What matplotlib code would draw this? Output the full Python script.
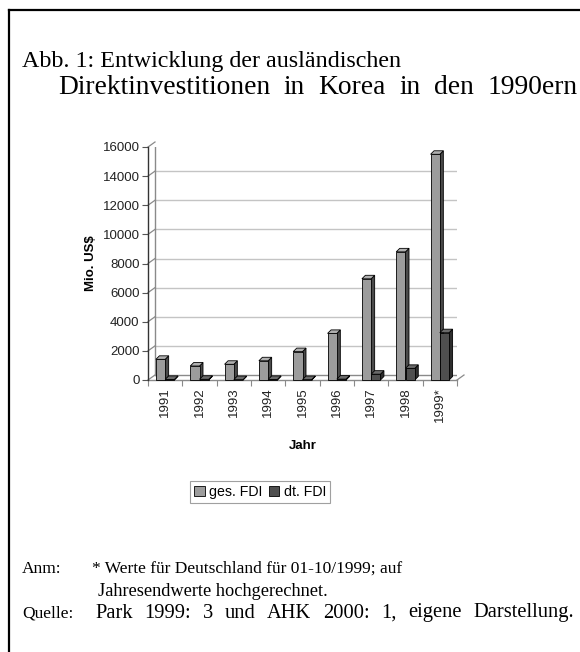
import matplotlib
matplotlib.use("Agg")
import matplotlib.pyplot as plt
from matplotlib.patches import Polygon, Patch
from matplotlib.transforms import offset_copy
import numpy as np

years = ["1991", "1992", "1993", "1994", "1995", "1996", "1997", "1998", "1999*"]
ges_fdi = [1420, 960, 1080, 1320, 1950, 3200, 6950, 8800, 15500]
dt_fdi = [40, 50, 30, 40, 30, 60, 400, 800, 3250]
series_names = ["ges. FDI", "dt. FDI"]
yticks = [0, 2000, 4000, 6000, 8000, 10000, 12000, 14000, 16000]

W, H = 580, 652
fig = plt.figure(figsize=(W / 100, H / 100), dpi=100)
fig.patch.set_facecolor("white")
renderer = fig.canvas.get_renderer()

fig.add_artist(plt.Line2D([9 / W, 9 / W], [0, 1 - 10 / H], color="black", lw=1.6, transform=fig.transFigure))
fig.add_artist(plt.Line2D([9 / W, 1], [1 - 10 / H, 1 - 10 / H], color="black", lw=1.6, transform=fig.transFigure))

serif = ["Liberation Serif", "DejaVu Serif"]


def justified(line, x_left, x_right, y, size):
    words = line.split(" ")
    texts = [fig.text(0, 1 - y / H, w, family=serif, fontsize=size, va="center", ha="left") for w in words]
    widths = [t.get_window_extent(renderer).width for t in texts]
    gap = (x_right - x_left - sum(widths)) / max(len(words) - 1, 1)
    x = x_left
    for t, wd in zip(texts, widths):
        t.set_x(x / W)
        x += wd + gap


fig.text(22 / W, 1 - 61 / H, "Abb. 1: Entwicklung der ausländischen", family=serif, fontsize=17.3, va="center", ha="left")
justified("Direktinvestitionen in Korea in den 1990ern", 58, 578, 87, 19.8)

fs_note = 12.5
fig.text(22 / W, 1 - 569 / H, "Anm:", family=serif, fontsize=fs_note, va="center")
fig.text(92 / W, 1 - 569 / H, "* Werte für Deutschland für 01-10/1999; auf", family=serif, fontsize=fs_note, va="center")
fig.text(98 / W, 1 - 591 / H, "Jahresendwerte hochgerechnet.", family=serif, fontsize=13.2, va="center")
fig.text(22 / W, 1 - 613 / H, "Quelle:", family=serif, fontsize=fs_note, va="center")
justified("Park 1999: 3 und AHK 2000: 1, eigene Darstellung.", 95, 574, 613, 14.8)

L, R, B, T = 148, 457, 380, 147
ax = fig.add_axes([L / W, 1 - B / H, (R - L) / W, (B - T) / H])
n = len(years)
xmin, xmax = -0.5, n - 0.5
ax.set_xlim(xmin, xmax)
ax.set_ylim(0, 16000)
ax.patch.set_visible(False)
for s in ax.spines.values():
    s.set_visible(False)

sans = ["Liberation Sans", "DejaVu Sans"]
back = offset_copy(ax.transData, fig=fig, x=7, y=5, units="dots")
for t in yticks[1:-1]:
    ax.plot([xmin, xmax], [t, t], color="#c4c4c4", lw=1.0, transform=back, zorder=0.5)
ax.plot([xmin, xmax], [16000, 16000], color="#8a8a8a", lw=1.0, transform=back, zorder=0.6)
ax.plot([xmin, xmin], [0, 16000], color="#8a8a8a", lw=1.0, transform=back, zorder=0.6)
ax.plot([xmax, xmax], [0, 16000], color="#8a8a8a", lw=1.0, transform=back, zorder=0.6)
ax.plot([xmin, xmax], [0, 0], color="#8a8a8a", lw=1.0, transform=back, zorder=0.6)

px_x = (R - L) / (xmax - xmin)
px_y = (B - T) / 16000.0
cdx, cdy = 7 / px_x, 5 / px_y
for t in yticks:
    ax.plot([xmin, xmin + cdx], [t, t + cdy], color="#8a8a8a", lw=0.9, zorder=0.6, clip_on=False)
ax.plot([xmax, xmax + cdx], [0, cdy], color="#8a8a8a", lw=0.9, zorder=0.6, clip_on=False)
ax.plot([xmin, xmin], [0, 16000], color="#333333", lw=1.0, zorder=3, clip_on=False)
ax.plot([xmin, xmax], [0, 0], color="#8a8a8a", lw=1.0, zorder=0.7, clip_on=False)

bw = 0.27
ddx, ddy = 3.5 / px_x, 3.5 / px_y
colors = {"ges": ("#9c9c9c", "#4a4a4a", "#b0b0b0"), "dt": ("#4f4f4f", "#2e2e2e", "#6a6a6a")}
for i in range(n):
    for key, vals, off in (("ges", ges_fdi, -0.135), ("dt", dt_fdi, 0.135)):
        v = vals[i]
        x0 = i + off - bw / 2
        x1 = x0 + bw
        front, side, top = colors[key]
        z = 2 + i * 0.01 + (0.005 if key == "dt" else 0)
        ax.add_patch(Polygon([(x1, 0), (x1, v), (x1 + ddx, v + ddy), (x1 + ddx, ddy)], closed=True,
                             facecolor=side, edgecolor="black", lw=0.6, zorder=z, clip_on=False))
        ax.add_patch(Polygon([(x0, v), (x1, v), (x1 + ddx, v + ddy), (x0 + ddx, v + ddy)], closed=True,
                             facecolor=top, edgecolor="black", lw=0.6, zorder=z, clip_on=False))
        ax.bar(x0, v, width=bw, align="edge", color=front, edgecolor="black", lw=0.6, zorder=z + 0.001,
               clip_on=False)

ax.set_yticks(yticks)
ax.set_yticklabels([str(t) for t in yticks], family=sans, fontsize=9.5, color="#222222")
ax.tick_params(axis="y", direction="out", length=4, width=0.8, color="#555555", pad=2)
ax.set_xticks(range(n))
ax.set_xticklabels(years, rotation=90, family=sans, fontsize=9.5, color="#222222")
ax.tick_params(axis="x", length=0, pad=5)
ax.set_xticks(np.arange(xmin, xmax + 0.01, 1), minor=True)
ax.tick_params(axis="x", which="minor", length=4, width=0.8, color="#8a8a8a", direction="out")

ax.set_ylabel("Mio. US$", family=sans, fontsize=9.5, fontweight="bold", labelpad=4)
ax.set_xlabel("Jahr", family=sans, fontsize=9.5, fontweight="bold", labelpad=13)

handles = [Patch(facecolor=colors["ges"][0], edgecolor="black", lw=0.6),
           Patch(facecolor=colors["dt"][0], edgecolor="black", lw=0.6)]
leg = fig.legend(handles, series_names, loc="center", bbox_to_anchor=(260 / W, 1 - 492 / H), ncol=2,
                 prop={"family": sans, "size": 10.2}, frameon=True, fancybox=False, handlelength=0.75,
                 handleheight=0.75, handletextpad=0.3, columnspacing=0.45, borderpad=0.3,
                 borderaxespad=0)
leg.get_frame().set_edgecolor("#888888")
leg.get_frame().set_linewidth(0.8)

fig.savefig("out.png", dpi=100)
